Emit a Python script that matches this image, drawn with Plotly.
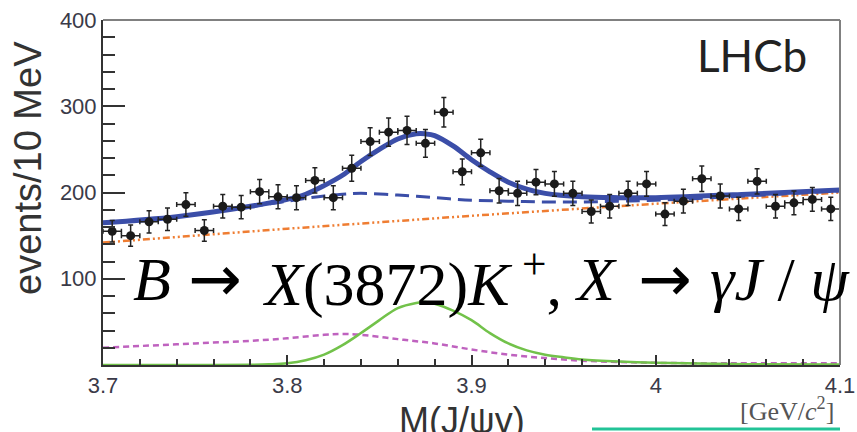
import numpy as np
import plotly.graph_objects as go

# ---- binned data: J/psi gamma invariant mass, 10 MeV bins ----
bin_centers = [3.705 + 0.01 * i for i in range(40)]
counts = [155, 150, 166, 169, 186, 156, 184, 183, 201, 195,
          194, 214, 194, 228, 259, 270, 272, 257, 293, 224,
          246, 202, 199, 212, 210, 199, 178, 184, 199, 210,
          175, 190, 216, 196, 181, 213, 184, 188, 192, 181]
half_bin = 0.005

# ---- fit components ----
total_x = [3.70, 3.74, 3.78, 3.80, 3.81, 3.82, 3.83, 3.84, 3.85, 3.86, 3.87, 3.875,
           3.88, 3.89, 3.90, 3.91, 3.92, 3.93, 3.94, 3.96, 3.98, 4.00, 4.05, 4.10]
total_y = [165, 172, 184, 192, 198, 208, 220, 236, 250, 262, 268, 268,
           266, 254, 238, 224, 212, 204, 199, 195, 194, 194, 198, 203]

bkg_x = [3.70, 3.74, 3.78, 3.80, 3.82, 3.83, 3.84, 3.86, 3.88, 3.90,
         3.92, 3.94, 3.96, 3.98, 4.00, 4.05, 4.10]
bkg_y = [164, 172, 183.5, 190, 196, 198, 199, 197, 194, 191,
         190, 189, 189, 190, 191, 196, 202]

comb_x = [3.70, 3.80, 3.90, 4.00, 4.10]
comb_y = [142, 158, 173, 187, 200]

refl_x = [3.70, 3.72, 3.74, 3.76, 3.78, 3.80, 3.82, 3.83, 3.84, 3.86, 3.88,
          3.90, 3.92, 3.94, 3.96, 3.98, 4.00, 4.04, 4.10]
refl_y = [20, 22, 24, 26, 28, 31, 35, 36, 35, 30, 25,
          18, 12, 8, 5, 3.5, 2.5, 2, 2]

sig_x = [3.70, 3.76, 3.78, 3.79, 3.80, 3.81, 3.82, 3.83, 3.84, 3.85, 3.86, 3.87,
         3.875, 3.88, 3.89, 3.90, 3.91, 3.92, 3.93, 3.94, 3.95, 3.96, 3.98, 4.00,
         4.05, 4.10]
sig_y = [0, 0, 0.3, 0.8, 2, 5.5, 12, 23, 37, 52, 66, 72,
         73, 71, 63, 52, 37, 25, 17, 12, 9, 6.5, 4, 2.5,
         1, 0.5]

BLUE = "#3b4ea8"
ORANGE = "#ef7d32"
MAGENTA = "#bf62bf"
GREEN = "#72c24a"
TICK = "#333333"

fig = go.Figure()

fig.add_trace(go.Scatter(x=comb_x, y=comb_y, mode="lines",
                         line=dict(color=ORANGE, width=2.5,
                                   dash="7px,3px,2px,3px,2px,3px")))
fig.add_trace(go.Scatter(x=refl_x, y=refl_y, mode="lines", line_shape="spline",
                         line=dict(color=MAGENTA, width=2.5, dash="6px,4px")))
fig.add_trace(go.Scatter(x=sig_x, y=sig_y, mode="lines", line_shape="spline",
                         line=dict(color=GREEN, width=2.5)))
fig.add_trace(go.Scatter(x=bkg_x, y=bkg_y, mode="lines", line_shape="spline",
                         line=dict(color=BLUE, width=3, dash="14px,7px")))
fig.add_trace(go.Scatter(x=total_x, y=total_y, mode="lines", line_shape="spline",
                         line=dict(color=BLUE, width=5)))

fig.add_trace(go.Scatter(
    x=bin_centers, y=counts, mode="markers",
    marker=dict(color="#1a1a1a", size=9, line=dict(width=0)),
    error_y=dict(type="data", array=list(np.sqrt(counts)), color="#222222",
                 thickness=1.5, width=2.5),
    error_x=dict(type="constant", value=half_bin, color="#222222",
                 thickness=1.5, width=2.5),
))

axis_font = dict(family="Liberation Sans, Arial, sans-serif", size=22, color="#3a3a48")

fig.update_xaxes(range=[3.7, 4.1], tickmode="linear", tick0=3.7, dtick=0.1,
                 ticks="inside", ticklen=10, tickwidth=1.5,
                 tickcolor=TICK, showline=True, linecolor=TICK, linewidth=2,
                 showgrid=False, zeroline=False, tickfont=axis_font,
                 minor=dict(ticks="inside", ticklen=6, tickwidth=1.5,
                            tickcolor=TICK, dtick=0.02, showgrid=False))
fig.update_yaxes(range=[0, 400], tickmode="linear", tick0=0, dtick=100,
                 labelalias={"0": " "},
                 ticks="inside", ticklen=22, tickwidth=1.5, tickcolor=TICK,
                 showline=True, linecolor=TICK, linewidth=2,
                 showgrid=False, zeroline=False, tickfont=axis_font,
                 minor=dict(ticks="inside", ticklen=12, tickwidth=1.5,
                            tickcolor=TICK, dtick=20, showgrid=False))

SERIF = "Liberation Serif, Times New Roman, serif"
FORMULA_Y = (365 - 279) / 345


def px(xpix):
    return (xpix - 103) / 737


fig.update_layout(
    template="none",
    width=857, height=432,
    margin=dict(l=103, r=17, t=20, b=67),
    paper_bgcolor="white", plot_bgcolor="white",
    showlegend=False,
    shapes=[
        # top and right frame edges
        dict(type="line", xref="paper", yref="paper", x0=0, x1=1, y0=1, y1=1,
             line=dict(color="#808080", width=2)),
        dict(type="line", xref="paper", yref="paper", x0=1, x1=1, y0=0, y1=1,
             line=dict(color="#808080", width=2)),
        # teal rule along the bottom edge
        dict(type="line", xref="paper", yref="paper",
             x0=px(592), x1=px(840), y0=-64 / 345, y1=-64 / 345,
             line=dict(color="#22c397", width=3)),
    ],
    annotations=[
        dict(text="LHCb", xref="paper", yref="paper", x=px(752),
             y=(365 - 55) / 345, xanchor="center", yanchor="middle",
             showarrow=False,
             font=dict(family="Lato, Open Sans, sans-serif", size=44, color="#222")),
        # decay chain label, set in pieces
        dict(text="<i>B</i>", xref="paper", yref="paper", x=px(131), y=FORMULA_Y,
             xanchor="left", yanchor="middle", showarrow=False,
             font=dict(family=SERIF, size=62, color="#000")),
        dict(text="→", xref="paper", yref="paper", x=px(215), y=FORMULA_Y,
             xanchor="center", yanchor="middle", showarrow=False,
             font=dict(family="DejaVu Sans", size=64, color="#000")),
        dict(text="<i>X</i>(3872)<i>K</i>\u2009<sup>+</sup>,", xref="paper", yref="paper",
             x=px(260), y=FORMULA_Y, xanchor="left", yanchor="middle",
             showarrow=False, font=dict(family=SERIF, size=62, color="#000")),
        dict(text="<i>X</i>", xref="paper", yref="paper", x=px(572), y=FORMULA_Y,
             xanchor="left", yanchor="middle", showarrow=False,
             font=dict(family=SERIF, size=62, color="#000")),
        dict(text="→", xref="paper", yref="paper", x=px(665), y=FORMULA_Y,
             xanchor="center", yanchor="middle", showarrow=False,
             font=dict(family="DejaVu Sans", size=64, color="#000")),
        dict(text="<i>γJ</i> / <i>ψ</i>", xref="paper", yref="paper", x=px(708),
             y=FORMULA_Y, xanchor="left", yanchor="middle", showarrow=False,
             font=dict(family=SERIF, size=62, color="#000")),
        dict(text="events/10 MeV", xref="paper", yref="paper",
             x=px(28), y=(365 - 168) / 345, textangle=-90,
             xanchor="center", yanchor="middle", showarrow=False,
             font=dict(family="Liberation Sans, Arial, sans-serif", size=38,
                       color="#333")),
        dict(text="M(J/ψγ)", xref="paper", yref="paper",
             x=px(462), y=(365 - 420) / 345,
             xanchor="center", yanchor="middle", showarrow=False,
             font=dict(family="Liberation Sans, Arial, sans-serif", size=36,
                       color="#333")),
        dict(text="[GeV/<i>c</i><sup>2</sup>]", xref="paper", yref="paper",
             x=px(787), y=(365 - 410) / 345,
             xanchor="center", yanchor="middle", showarrow=False,
             font=dict(family=SERIF, size=26, color="#555")),
    ],
)

fig.write_html("out.html")
